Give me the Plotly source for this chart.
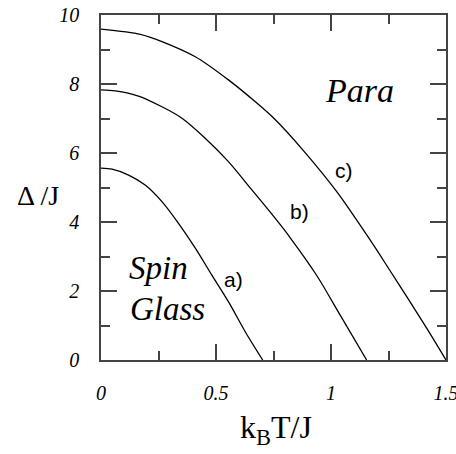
import plotly.graph_objects as go

# Curve a)
a_T = [0.0, 0.048, 0.120, 0.192, 0.265, 0.337, 0.410, 0.482, 0.554, 0.627, 0.703]
a_D = [5.56, 5.53, 5.36, 5.07, 4.59, 3.96, 3.24, 2.46, 1.69, 0.82, 0.0]
# Curve b)
b_T = [0.0, 0.062, 0.163, 0.265, 0.352, 0.453, 0.554, 0.656, 0.757, 0.822, 0.938, 1.040, 1.155]
b_D = [7.83, 7.80, 7.65, 7.34, 7.01, 6.43, 5.75, 4.93, 4.11, 3.55, 2.45, 1.30, 0.0]
# Curve c)
c_T = [0.0, 0.171, 0.265, 0.410, 0.554, 0.670, 0.757, 0.880, 1.025, 1.170, 1.250, 1.330, 1.420, 1.5]
c_D = [9.59, 9.44, 9.23, 8.79, 8.12, 7.49, 6.97, 6.07, 4.88, 3.48, 2.66, 1.83, 0.88, 0.0]

x_ticks = [0, 0.5, 1, 1.5]
x_tick_text = ["0", "0.5", "1", "1.5"]
x_minor = [0.25, 0.75, 1.25]
y_ticks = [0, 2, 4, 6, 8, 10]
y_tick_text = ["0", "2", "4", "6", "8", "10"]
y_minor = [1, 3, 5, 7, 9]

SERIF = "Liberation Serif"
SANS = "Liberation Sans"
AXC = "#444444"

fig = go.Figure()
for xs, ys in [(a_T, a_D), (b_T, b_D), (c_T, c_D)]:
    fig.add_trace(go.Scatter(x=xs, y=ys, mode="lines",
                             line=dict(color="black", width=1.3, shape="spline", smoothing=0.8),
                             showlegend=False, hoverinfo="skip"))

axis_common = dict(
    showgrid=False, zeroline=False, showline=True, linecolor=AXC, linewidth=1.5,
    mirror="ticks", ticks="inside", ticklen=16, tickwidth=1.5, tickcolor=AXC,
    automargin=False, ticklabeloverflow="allow",
    tickfont=dict(family=SERIF, size=20, color="black", style="italic"),
)

fig.update_xaxes(range=[0, 1.5], tickmode="array", tickvals=x_ticks, ticktext=x_tick_text,
                 minor=dict(ticks="inside", ticklen=9, tickwidth=1.5, tickcolor=AXC,
                            tickmode="array", tickvals=x_minor),
                 ticklabelstandoff=14, **axis_common)
fig.update_yaxes(range=[0, 10], tickmode="array", tickvals=y_ticks, ticktext=y_tick_text,
                 minor=dict(ticks="inside", ticklen=9, tickwidth=1.5, tickcolor=AXC,
                            tickmode="array", tickvals=y_minor),
                 ticklabelstandoff=16, **axis_common)

annos = [
    dict(text="Δ /J", x=-0.184, y=0.478, font=dict(family=SERIF, size=28, color="black")),
    dict(text="k<sub>B</sub>T/J", x=0.508, y=-0.2, font=dict(family=SERIF, size=32, color="black")),
    dict(text="<i>Para</i>", x=0.748, y=0.782, font=dict(family=SERIF, size=34, color="black")),
    dict(text="<i>Spin</i>", x=0.166, y=0.267, font=dict(family=SERIF, size=33, color="black")),
    dict(text="<i>Glass</i>", x=0.193, y=0.148, font=dict(family=SERIF, size=33, color="black")),
    dict(text="a)", x=0.383, y=0.232, font=dict(family=SANS, size=21, color="black")),
    dict(text="b)", x=0.574, y=0.429, font=dict(family=SANS, size=21, color="black")),
    dict(text="c)", x=0.705, y=0.548, font=dict(family=SANS, size=21, color="black")),
]
for an in annos:
    fig.add_annotation(xref="paper", yref="paper", showarrow=False, xanchor="center", yanchor="middle", **an)

fig.update_layout(width=456, height=454, margin=dict(l=101, r=10, t=15, b=94),
                  plot_bgcolor="white", paper_bgcolor="white")
fig.write_html("out.html")
